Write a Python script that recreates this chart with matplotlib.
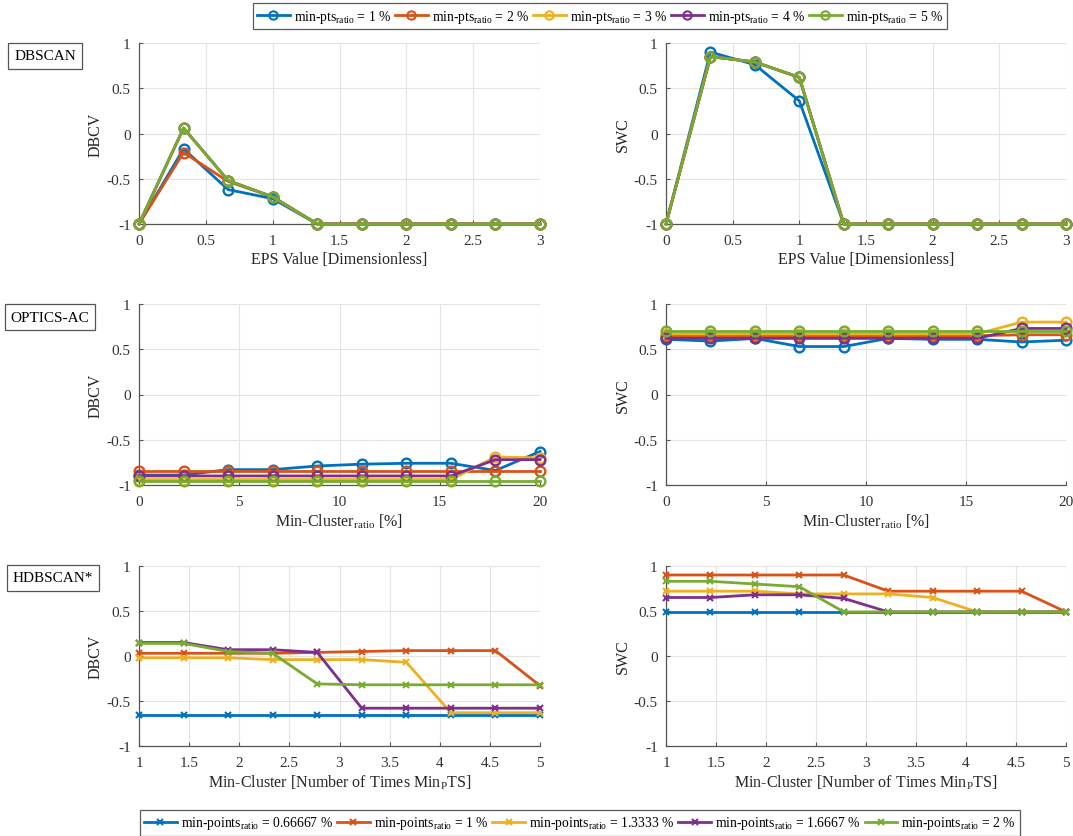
import numpy as np
import matplotlib
matplotlib.use("Agg")
import matplotlib.pyplot as plt
from matplotlib.lines import Line2D

plt.rcParams['font.family'] = ['Liberation Serif', 'DejaVu Serif']
plt.rcParams['mathtext.fontset'] = 'custom'
plt.rcParams['mathtext.rm'] = 'Liberation Serif'
plt.rcParams['mathtext.it'] = 'Liberation Serif:italic'

colors = ['#0072BD', '#D95319', '#EDB120', '#7E2F8E', '#77AC30']

# ---- data ----
eps_x = [0, 1/3, 2/3, 1, 4/3, 5/3, 2, 7/3, 8/3, 3]
optics_x = [0, 20/9, 40/9, 60/9, 80/9, 100/9, 120/9, 140/9, 160/9, 20]
hdb_x = [1, 1 + 4/9, 1 + 8/9, 1 + 12/9, 1 + 16/9, 1 + 20/9, 1 + 24/9, 1 + 28/9, 1 + 32/9, 5]

top_labels = ['min-pts$_{\\mathrm{ratio}}$ = 1 %', 'min-pts$_{\\mathrm{ratio}}$ = 2 %',
              'min-pts$_{\\mathrm{ratio}}$ = 3 %', 'min-pts$_{\\mathrm{ratio}}$ = 4 %',
              'min-pts$_{\\mathrm{ratio}}$ = 5 %']
bottom_labels = ['min-points$_{\\mathrm{ratio}}$ = 0.66667 %', 'min-points$_{\\mathrm{ratio}}$ = 1 %',
                 'min-points$_{\\mathrm{ratio}}$ = 1.3333 %', 'min-points$_{\\mathrm{ratio}}$ = 1.6667 %',
                 'min-points$_{\\mathrm{ratio}}$ = 2 %']

dbscan_dbcv_1 = [-1, -0.17, -0.62, -0.72, -1, -1, -1, -1, -1, -1]
dbscan_dbcv_2 = [-1, -0.21, -0.53, -0.70, -1, -1, -1, -1, -1, -1]
dbscan_dbcv_3 = [-1, 0.06, -0.52, -0.70, -1, -1, -1, -1, -1, -1]
dbscan_dbcv_4 = [-1, 0.06, -0.52, -0.70, -1, -1, -1, -1, -1, -1]
dbscan_dbcv_5 = [-1, 0.06, -0.52, -0.70, -1, -1, -1, -1, -1, -1]

dbscan_swc_1 = [-1, 0.90, 0.76, 0.36, -1, -1, -1, -1, -1, -1]
dbscan_swc_2 = [-1, 0.85, 0.79, 0.62, -1, -1, -1, -1, -1, -1]
dbscan_swc_3 = [-1, 0.85, 0.79, 0.62, -1, -1, -1, -1, -1, -1]
dbscan_swc_4 = [-1, 0.85, 0.79, 0.62, -1, -1, -1, -1, -1, -1]
dbscan_swc_5 = [-1, 0.85, 0.79, 0.62, -1, -1, -1, -1, -1, -1]

optics_dbcv_1 = [-0.89, -0.89, -0.83, -0.83, -0.79, -0.77, -0.76, -0.76, -0.84, -0.63]
optics_dbcv_2 = [-0.84, -0.84, -0.84, -0.84, -0.84, -0.84, -0.84, -0.84, -0.84, -0.84]
optics_dbcv_3 = [-0.94, -0.94, -0.94, -0.94, -0.94, -0.94, -0.94, -0.94, -0.69, -0.70]
optics_dbcv_4 = [-0.90, -0.90, -0.90, -0.90, -0.90, -0.90, -0.90, -0.90, -0.72, -0.72]
optics_dbcv_5 = [-0.96, -0.96, -0.96, -0.96, -0.96, -0.96, -0.96, -0.96, -0.96, -0.96]

optics_swc_1 = [0.61, 0.59, 0.62, 0.53, 0.53, 0.62, 0.61, 0.61, 0.58, 0.60]
optics_swc_2 = [0.65, 0.65, 0.65, 0.65, 0.65, 0.65, 0.65, 0.65, 0.66, 0.66]
optics_swc_3 = [0.67, 0.67, 0.67, 0.67, 0.67, 0.67, 0.67, 0.67, 0.80, 0.80]
optics_swc_4 = [0.62, 0.62, 0.62, 0.62, 0.62, 0.62, 0.62, 0.62, 0.73, 0.73]
optics_swc_5 = [0.70, 0.70, 0.70, 0.70, 0.70, 0.70, 0.70, 0.70, 0.70, 0.70]

hdb_dbcv_1 = [-0.65, -0.65, -0.65, -0.65, -0.65, -0.65, -0.65, -0.65, -0.65, -0.65]
hdb_dbcv_2 = [0.03, 0.03, 0.03, 0.03, 0.04, 0.05, 0.06, 0.06, 0.06, -0.33]
hdb_dbcv_3 = [-0.02, -0.02, -0.02, -0.04, -0.04, -0.04, -0.07, -0.63, -0.63, -0.63]
hdb_dbcv_4 = [0.15, 0.15, 0.07, 0.07, 0.04, -0.58, -0.58, -0.58, -0.58, -0.58]
hdb_dbcv_5 = [0.14, 0.14, 0.05, 0.03, -0.31, -0.32, -0.32, -0.32, -0.32, -0.32]

hdb_swc_1 = [0.49, 0.49, 0.49, 0.49, 0.49, 0.49, 0.49, 0.49, 0.49, 0.49]
hdb_swc_2 = [0.90, 0.90, 0.90, 0.90, 0.90, 0.72, 0.72, 0.72, 0.72, 0.49]
hdb_swc_3 = [0.72, 0.72, 0.72, 0.69, 0.69, 0.69, 0.65, 0.49, 0.49, 0.49]
hdb_swc_4 = [0.65, 0.65, 0.68, 0.68, 0.64, 0.49, 0.49, 0.49, 0.49, 0.49]
hdb_swc_5 = [0.83, 0.83, 0.80, 0.77, 0.49, 0.49, 0.49, 0.49, 0.49, 0.49]

y_ticks = [-1, -0.5, 0, 0.5, 1]
y_ticklabels = ['-1', '-0.5', '0', '0.5', '1']

# ---- figure ----
W, H = 1073, 837
fig = plt.figure(figsize=(W / 100, H / 100), dpi=100)


def make_ax(x0, x1, ytop, ybot):
    return fig.add_axes([x0 / W, 1 - ybot / H, (x1 - x0) / W, (ybot - ytop) / H])


def style(ax, xlim, xticks, xlabel, ylabel):
    ax.set_xlim(*xlim)
    ax.set_ylim(-1, 1)
    ax.set_xticks(xticks)
    ax.set_xticklabels([('%g' % t) for t in xticks])
    ax.set_yticks(y_ticks)
    ax.set_yticklabels(y_ticklabels)
    ax.grid(True, color='#e3e3e3', linewidth=0.8)
    ax.set_axisbelow(True)
    for s in ['top', 'right']:
        ax.spines[s].set_visible(False)
    for s in ['left', 'bottom']:
        ax.spines[s].set_color('#555555')
        ax.spines[s].set_linewidth(0.9)
    ax.tick_params(direction='in', length=3, colors='#555555', labelcolor='#333333',
                   labelsize=11, pad=6)
    ax.tick_params(axis='x', pad=7)
    ax.set_xlabel(xlabel, fontsize=11.5, color='#262626', labelpad=3)
    ax.set_ylabel(ylabel, fontsize=11.5, color='#262626', labelpad=2)
    for lbl in ax.get_xticklabels() + ax.get_yticklabels():
        lbl.set_clip_on(False)


rows = [(44, 225), (305, 486), (567, 747)]
cols = [(139, 540), (666, 1066)]

panels = [
    (eps_x, [dbscan_dbcv_1, dbscan_dbcv_2, dbscan_dbcv_3, dbscan_dbcv_4, dbscan_dbcv_5], 'o',
     (0, 3), [0, 0.5, 1, 1.5, 2, 2.5, 3], 'EPS Value [Dimensionless]', 'DBCV'),
    (eps_x, [dbscan_swc_1, dbscan_swc_2, dbscan_swc_3, dbscan_swc_4, dbscan_swc_5], 'o',
     (0, 3), [0, 0.5, 1, 1.5, 2, 2.5, 3], 'EPS Value [Dimensionless]', 'SWC'),
    (optics_x, [optics_dbcv_1, optics_dbcv_2, optics_dbcv_3, optics_dbcv_4, optics_dbcv_5], 'o',
     (0, 20), [0, 5, 10, 15, 20], 'Min-Cluster$_{\\mathrm{ratio}}$ [%]', 'DBCV'),
    (optics_x, [optics_swc_1, optics_swc_2, optics_swc_3, optics_swc_4, optics_swc_5], 'o',
     (0, 20), [0, 5, 10, 15, 20], 'Min-Cluster$_{\\mathrm{ratio}}$ [%]', 'SWC'),
    (hdb_x, [hdb_dbcv_1, hdb_dbcv_2, hdb_dbcv_3, hdb_dbcv_4, hdb_dbcv_5], 'x',
     (1, 5), [1, 1.5, 2, 2.5, 3, 3.5, 4, 4.5, 5], 'Min-Cluster [Number of Times Min$_{\\mathrm{P}}$TS]', 'DBCV'),
    (hdb_x, [hdb_swc_1, hdb_swc_2, hdb_swc_3, hdb_swc_4, hdb_swc_5], 'x',
     (1, 5), [1, 1.5, 2, 2.5, 3, 3.5, 4, 4.5, 5], 'Min-Cluster [Number of Times Min$_{\\mathrm{P}}$TS]', 'SWC'),
]

for i, (xv, series, mk, xlim, xticks, xlabel, ylabel) in enumerate(panels):
    r, c = divmod(i, 2)
    ax = make_ax(cols[c][0], cols[c][1], rows[r][0], rows[r][1])
    for k, yv in enumerate(series):
        if mk == 'o':
            ax.plot(xv, yv, color=colors[k], lw=2, marker='o', ms=7, mfc='none',
                    mew=1.7, clip_on=False, zorder=3)
        else:
            ax.plot(xv, yv, color=colors[k], lw=2, marker='x', ms=5, mew=1.5,
                    clip_on=False, zorder=3)
    style(ax, xlim, xticks, xlabel, ylabel)

# ---- legends ----
top_handles = [Line2D([], [], color=colors[k], lw=2, marker='o', ms=6, mfc='none', mew=1.5)
               for k in range(5)]
bot_handles = [Line2D([], [], color=colors[k], lw=2, marker='x', ms=5, mew=1.5)
               for k in range(5)]

leg1 = fig.legend(top_handles, top_labels, loc='center', bbox_to_anchor=(600 / W, 1 - 17 / H),
                  ncol=5, frameon=True, fontsize=9.8, handlelength=2.4, handletextpad=0.3,
                  columnspacing=0.3, borderpad=0.3, fancybox=False, edgecolor='#333333',
                  borderaxespad=0)
leg1.get_frame().set_linewidth(0.9)

leg2 = fig.legend(bot_handles, bottom_labels, loc='center', bbox_to_anchor=(580 / W, 1 - 824 / H),
                  ncol=5, frameon=True, fontsize=9.8, handlelength=2.4, handletextpad=0.3,
                  columnspacing=0.3, borderpad=0.3, fancybox=False, edgecolor='#333333',
                  borderaxespad=0)
leg2.get_frame().set_linewidth(0.9)

# ---- method boxes ----
box = dict(boxstyle='square,pad=0.4', fc='white', ec='#555555', lw=0.9)
fig.text(45 / W, 1 - 57 / H, 'DBSCAN', ha='center', va='center', fontsize=11, bbox=box)
fig.text(50 / W, 1 - 318 / H, 'OPTICS-AC', ha='center', va='center', fontsize=11, bbox=box)
fig.text(53 / W, 1 - 579 / H, 'HDBSCAN*', ha='center', va='center', fontsize=11, bbox=box)

fig.savefig('out.png', dpi=100)
